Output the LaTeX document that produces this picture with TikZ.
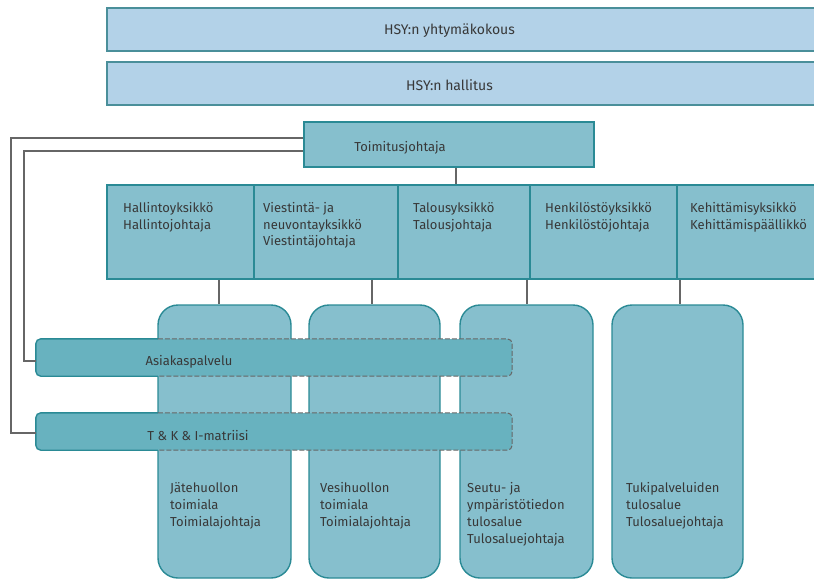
\documentclass[tikz,border=0pt]{standalone}
\usepackage{fontspec}
\setmainfont{Fira Sans}
\definecolor{lightblue}{HTML}{B3D2E8}
\definecolor{topborder}{HTML}{4A8F9A}
\definecolor{midfill}{HTML}{86BFCD}
\definecolor{midborder}{HTML}{2A8A95}
\definecolor{bandfill}{HTML}{68B2BF}
\definecolor{linegray}{HTML}{666666}
\definecolor{txt}{HTML}{383838}
\begin{document}
\begin{tikzpicture}[x=1pt,y=-1pt,
  every node/.style={font=\fontsize{13}{16.8}\selectfont, text=txt},
  toptxt/.style={inner sep=0, font=\fontsize{14}{16.8}\selectfont},
  topbox/.style={draw=topborder, fill=lightblue, line width=1.3pt, inner sep=0, minimum height=43pt},
  unitbox/.style={draw=midborder, fill=midfill, line width=1.1pt, inner sep=0, minimum height=94pt},
  areabox/.style={draw=midborder, fill=midfill, line width=1.4pt, inner sep=0, minimum height=273pt, rounded corners=20pt},
  band/.style={fill=bandfill, inner sep=0, minimum height=37pt, minimum width=476pt, rounded corners=5pt},
  lbl/.style={align=left, anchor=north west, inner sep=0},
  conn/.style={draw=linegray, line width=2pt},
  bandedge/.style={draw=midborder, line width=1.4pt},
  banddash/.style={draw=linegray, line width=1pt, dash pattern=on 5pt off 2pt}
]
\useasboundingbox (0,0) rectangle (814,579);

% top boxes
\node[topbox, minimum width=713pt] (yk) at (463.5,29.5) {};
\node[toptxt] (yktxt) at (449.5,31) {HSY:n yhtymäkokous};
\node[topbox, minimum width=713pt] (hal) at (463.5,83.5) {};
\node[toptxt] (haltxt) at (449.5,85) {HSY:n hallitus};

% CEO
\node[unitbox, minimum width=290pt, minimum height=45pt] (tj) at (449,144.5) {};
\node[inner sep=0] (tjtxt) at (400,148) {Toimitusjohtaja};

% unit row
\node[unitbox, minimum width=147pt] (u1) at (180.5,232) {};
\node[unitbox, minimum width=144pt] (u2) at (326,232) {};
\node[unitbox, minimum width=132pt] (u3) at (464,232) {};
\node[unitbox, minimum width=147pt] (u4) at (603.5,232) {};
\node[unitbox, minimum width=153pt] (u5) at (753.5,232) {};
\node[lbl] (t1) at (123,202) {Hallintoyksikkö\\Hallintojohtaja};
\node[lbl] (t2) at (263,202) {Viestintä- ja\\neuvontayksikkö\\Viestintäjohtaja};
\node[lbl] (t3) at (413,202) {Talousyksikkö\\Talousjohtaja};
\node[lbl] (t4) at (545,202) {Henkilöstöyksikkö\\Henkilöstöjohtaja};
\node[lbl] (t5) at (690,202) {Kehittämisyksikkö\\Kehittämispäällikkö};

\draw[conn] ([xshift=7pt]tj.south) -- ([xshift=7pt]tj.south |- u3.north);

% area boxes
\node[areabox, minimum width=133pt] (r1) at (224.5,441.5) {};
\node[areabox, minimum width=131pt] (r2) at (374.5,441.5) {};
\node[areabox, minimum width=133pt] (r3) at (526.5,441.5) {};
\node[areabox, minimum width=131pt] (r4) at (677.5,441.5) {};

\draw[conn] ([xshift=-6pt]r1.north |- u1.south) -- ([xshift=-6pt]r1.north);
\draw[conn] ([xshift=-3pt]r2.north |- u1.south) -- ([xshift=-3pt]r2.north);
\draw[conn] ([xshift=0.5pt]r3.north |- u1.south) -- ([xshift=0.5pt]r3.north);
\draw[conn] ([xshift=2.5pt]r4.north |- u1.south) -- ([xshift=2.5pt]r4.north);

\node[lbl] (a1) at (170,482.5) {Jätehuollon\\toimiala\\Toimialajohtaja};
\node[lbl] (a2) at (320,482.5) {Vesihuollon\\toimiala\\Toimialajohtaja};
\node[lbl] (a3) at (467,482.5) {Seutu- ja\\ympäristötiedon\\tulosalue\\Tulosaluejohtaja};
\node[lbl] (a4) at (626,482.5) {Tukipalveluiden\\tulosalue\\Tulosaluejohtaja};

% bands
\node[band] (b1) at (274,357.5) {};
\node[inner sep=0] (b1txt) at (189,362) {Asiakaspalvelu};
\node[band] (b2) at (274,431.5) {};
\node[inner sep=0] (b2txt) at (198,436) {T \& K \& I-matriisi};

\foreach \b in {b1,b2}{
  \draw[bandedge, rounded corners=5pt] ([xshift=122pt]\b.north west) -- (\b.north west) -- (\b.south west) -- ([xshift=122pt]\b.south west);
  \draw[banddash, rounded corners=5pt] ([xshift=122pt]\b.north west) -- (\b.north east) -- (\b.south east) -- ([xshift=122pt]\b.south west);
}

% matrix connectors
\draw[conn] ([yshift=6.5pt]tj.west) -- ++(-292,0) |- ([yshift=-1.5pt]b2.west);
\draw[conn] ([yshift=-6.5pt]tj.west) -- ++(-279,0) |- ([yshift=-3.5pt]b1.west);
\end{tikzpicture}
\end{document}
